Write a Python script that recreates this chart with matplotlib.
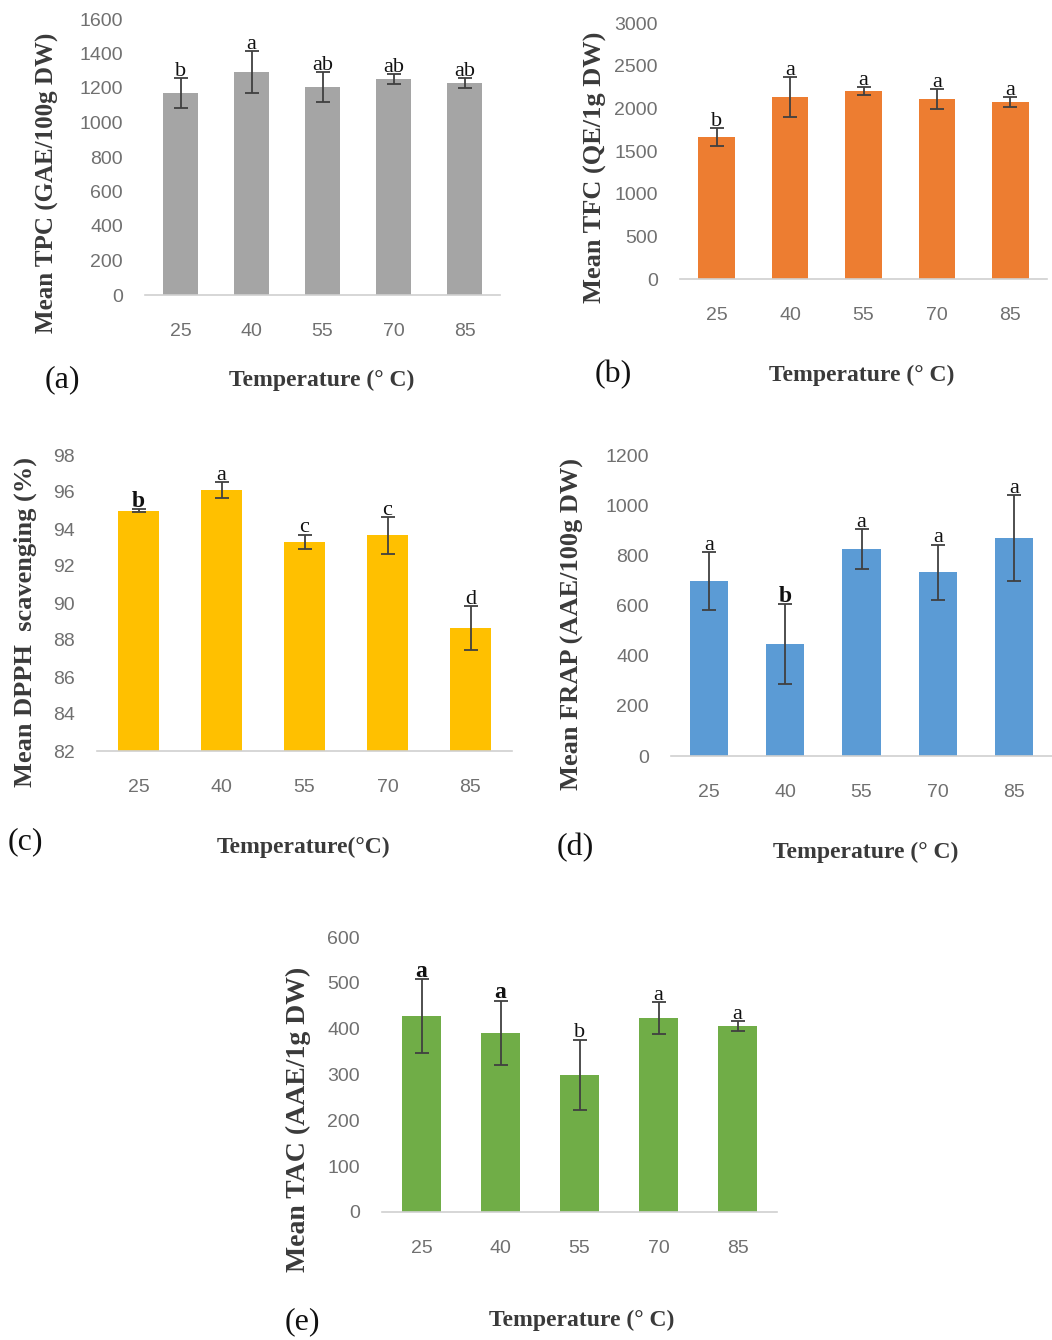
import numpy as np
import matplotlib
matplotlib.use("Agg")
import matplotlib.pyplot as plt

# data
temps = ["25", "40", "55", "70", "85"]

tpc = [1170, 1293, 1206, 1252, 1229]
tpc_err = [87, 121, 87, 28, 30]
tpc_letters = ["b", "a", "ab", "ab", "ab"]

tfc = [1664, 2133, 2203, 2109, 2074]
tfc_err = [105, 234, 50, 115, 60]
tfc_letters = ["b", "a", "a", "a", "a"]

dpph = [95.0, 96.1, 93.3, 93.65, 88.65]
dpph_err = [0.08, 0.45, 0.4, 1.0, 1.2]
dpph_letters = ["b", "a", "c", "c", "d"]
dpph_bold = [True, False, False, False, False]

frap = [698, 447, 825, 733, 869]
frap_err = [115, 159, 80, 110, 171]
frap_letters = ["a", "b", "a", "a", "a"]
frap_bold = [False, True, False, False, False]

tac = [428, 391, 299, 423, 406]
tac_err = [80, 70, 77, 35, 11]
tac_letters = ["a", "a", "b", "a", "a"]
tac_bold = [True, True, False, False, False]

W, H = 1052, 1340
fig = plt.figure(figsize=(W / 100, H / 100), dpi=100)

tick_font = ["Liberation Sans Narrow", "Liberation Sans", "DejaVu Sans"]
serif = ["Liberation Serif", "DejaVu Serif"]


def px_axes(x0, x1, y_top, y_bot):
    return fig.add_axes([x0 / W, 1 - y_bot / H, (x1 - x0) / W, (y_bot - y_top) / H])


def panel(box, vals, errs, letters, bold, color, ylim, yticks, ylabel, ylab_xy, ylab_size,
          xlabel, xlab_xy, tag, tag_xy):
    ax = px_axes(*box)
    x = np.arange(len(temps))
    base = ylim[0]
    ax.bar(x, np.array(vals) - base, bottom=base, width=0.5, color=color, zorder=2)
    ax.errorbar(x, vals, yerr=errs, fmt="none", ecolor="#404040", elinewidth=1.3,
                capsize=5, capthick=1.3, zorder=3)
    for i in range(len(vals)):
        ax.annotate(letters[i], (x[i], vals[i] + errs[i]), xytext=(0, -2),
                    textcoords="offset points", ha="center", va="bottom",
                    fontsize=17 if bold[i] else 16, family=serif,
                    fontweight="bold" if bold[i] else "normal", color="#111111")
    ax.set_xlim(-0.5, len(temps) - 0.5)
    ax.set_ylim(*ylim)
    ax.set_yticks(yticks)
    ax.set_xticks(x)
    ax.set_xticklabels(temps)
    for s in ["top", "right", "left"]:
        ax.spines[s].set_visible(False)
    ax.spines["bottom"].set_color("#d0d0d0")
    ax.spines["bottom"].set_linewidth(1.2)
    ax.tick_params(length=0, labelsize=14, labelcolor="#707070")
    ax.tick_params(axis="x", pad=20)
    ax.tick_params(axis="y", pad=16)
    for lab in ax.get_xticklabels() + ax.get_yticklabels():
        lab.set_family(tick_font)
    fig.text(ylab_xy[0] / W, 1 - ylab_xy[1] / H, ylabel, rotation=90, ha="center",
             va="center", fontsize=ylab_size, fontweight="bold", family=serif,
             color="#3a3a3a")
    fig.text(xlab_xy[0] / W, 1 - xlab_xy[1] / H, xlabel, ha="center", va="center",
             fontsize=17, fontweight="bold", family=serif, color="#3a3a3a")
    fig.text(tag_xy[0] / W, 1 - tag_xy[1] / H, tag, ha="center", va="center",
             fontsize=23, family=serif, color="#111111")
    return ax


panel((145, 500, 19, 295), tpc, tpc_err, tpc_letters, [False] * 5, "#a5a5a5",
      (0, 1600), range(0, 1601, 200), "Mean TPC (GAE/100g DW)", (47, 183), 18,
      "Temperature (° C)", (322, 380), "(a)", (62, 380))

panel((680, 1047, 23, 279), tfc, tfc_err, tfc_letters, [False] * 5, "#ed7d31",
      (0, 3000), range(0, 3001, 500), "Mean TFC (QE/1g DW)", (595, 167), 19,
      "Temperature (° C)", (862, 375), "(b)", (613, 375))

panel((97, 512, 455, 751), dpph, dpph_err, dpph_letters, dpph_bold, "#ffc000",
      (82, 98), range(82, 99, 2), "Mean DPPH  scavenging (%)", (25, 622), 19,
      "Temperature(°C)", (304, 847), "(c)", (25, 842))

panel((671, 1052, 455, 756), frap, frap_err, frap_letters, frap_bold, "#5b9bd5",
      (0, 1200), range(0, 1201, 200), "Mean FRAP (AAE/100g DW)", (572, 624), 19,
      "Temperature (° C)", (866, 852), "(d)", (575, 848))

panel((382, 777, 937, 1212), tac, tac_err, tac_letters, tac_bold, "#70ad47",
      (0, 600), range(0, 601, 100), "Mean TAC (AAE/1g DW)", (298, 1119), 20,
      "Temperature (° C)", (582, 1320), "(e)", (302, 1322))

fig.savefig("out.png", dpi=100, facecolor="white")
